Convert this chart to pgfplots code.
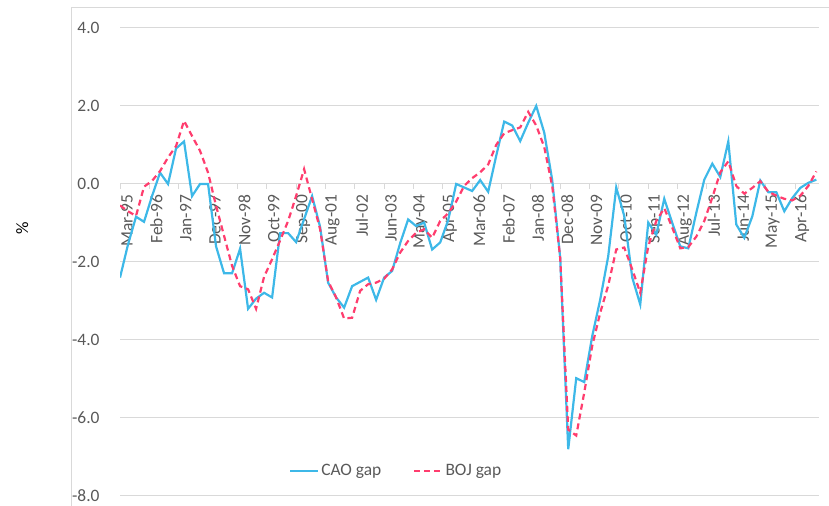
\documentclass[border=0pt]{standalone}
\usepackage{pgfplots}
\usepackage{pgfplotstable}
\pgfplotsset{compat=1.18}
\usepackage{fontspec}
\setmainfont{Carlito}
\definecolor{caoblue}{HTML}{3DB8E8}
\definecolor{bojred}{HTML}{FF3D6E}
\definecolor{txtgray}{HTML}{595959}
\definecolor{gridgray}{HTML}{D9D9D9}
\pgfplotsset{
  layers/labelsbelow/.define layer set={
    axis background,axis grid,axis ticks,axis lines,axis tick labels,main,axis descriptions,axis foreground
  }{/pgfplots/layers/standard},
}
\pgfplotstableread{
m cao boj
0 -2.40 -0.55
3 -1.55 -0.70
6 -0.84 -0.82
9 -0.97 -0.07
12 -0.31 0.08
15 0.29 0.33
18 0.00 0.68
21 0.91 0.97
24 1.09 1.62
27 -0.31 1.23
30 0.00 0.85
33 0.00 0.29
36 -1.60 -0.56
39 -2.29 -1.33
42 -2.29 -2.10
45 -1.66 -2.62
48 -3.20 -2.70
51 -2.94 -3.20
54 -2.79 -2.38
57 -2.91 -1.93
60 -1.26 -1.45
63 -1.26 -0.95
66 -1.49 -0.31
69 -0.90 0.38
72 -0.31 -0.39
75 -1.10 -1.16
78 -2.53 -2.49
81 -2.91 -2.91
84 -3.17 -3.45
87 -2.62 -3.43
90 -2.51 -2.74
93 -2.40 -2.57
96 -2.97 -2.53
99 -2.40 -2.43
102 -2.23 -2.19
105 -1.52 -1.76
108 -0.91 -1.46
111 -1.08 -1.25
114 -0.99 -1.16
117 -1.68 -1.38
120 -1.50 -0.95
123 -0.93 -0.75
126 0.00 -0.45
129 -0.09 -0.05
132 -0.18 0.15
135 0.10 0.30
138 -0.20 0.50
141 0.72 1.00
144 1.60 1.30
147 1.50 1.38
150 1.10 1.45
153 1.57 1.85
156 2.00 1.50
159 1.32 0.95
162 0.10 -0.05
165 -1.90 -1.90
168 -6.80 -6.30
171 -4.98 -6.45
174 -5.08 -5.35
177 -3.90 -4.15
180 -2.96 -3.30
183 -1.85 -2.60
186 -0.09 -1.68
189 -0.82 -1.63
192 -2.40 -2.19
195 -3.09 -2.79
198 -0.99 -1.60
201 -1.30 -0.95
204 -0.38 -0.62
207 -1.00 -1.12
210 -1.60 -1.65
213 -1.65 -1.62
216 -0.74 -1.35
219 0.11 -0.95
222 0.52 -0.35
225 0.18 0.30
228 1.09 0.58
231 -1.04 -0.05
234 -1.38 -0.25
237 -0.83 -0.10
240 0.09 0.07
243 -0.21 -0.20
246 -0.21 -0.30
249 -0.70 -0.38
252 -0.36 -0.42
255 -0.10 -0.30
258 0.03 -0.05
261 0.11 0.32
}\gapdata
\begin{document}
\fontsize{17.5}{21}\selectfont
\begin{tikzpicture}
\begin{axis}[
  set layers=labelsbelow,
  scale only axis, width=699bp, height=468bp,
  xmin=0, xmax=262, ymin=-8, ymax=4,
  axis x line=middle, axis y line=left,
  hide obscured x ticks=false,
  x axis line style={draw=gridgray, line width=1bp, -},
  y axis line style={draw=none},
  ytick={-8,-6,-4,-2,0,2,4},
  ymajorgrids, grid style={gridgray, line width=1bp},
  ytick style={draw=none},
  xtick={0,11,...,253},
  xticklabels={Mar-95,Feb-96,Jan-97,Dec-97,Nov-98,Oct-99,Sep-00,Aug-01,Jul-02,Jun-03,May-04,Apr-05,Mar-06,Feb-07,Jan-08,Dec-08,Nov-09,Oct-10,Sep-11,Aug-12,Jul-13,Jun-14,May-15,Apr-16},
  x tick style={draw=gridgray, line width=1bp},
  xtick align=outside,
  major tick length=5bp,
  xticklabel style={rotate=90, anchor=east, text=txtgray, yshift=-7bp},
  yticklabel style={text=txtgray, anchor=east, xshift=-12bp, /pgf/number format/.cd, fixed, fixed zerofill, precision=1},
  /pgf/number format/assume math mode=true,
  ylabel={\%},
  ylabel style={at={(axis description cs:-0.14,0.573)}, anchor=center, text=black},
  legend style={at={(0.395,0.0534)}, anchor=center, draw=none, fill=none,
    legend columns=2, text=txtgray,
    /tikz/every even column/.append style={column sep=30bp}},
  legend image code/.code={\draw[#1] (0bp,0bp) -- (28bp,0bp);},
]
\addplot[caoblue, line width=2.2bp, mark=none] table[x=m, y=cao] {\gapdata};
\addplot[bojred, line width=2.2bp, dash pattern=on 6bp off 4bp, mark=none] table[x=m, y=boj] {\gapdata};
\legend{CAO gap, BOJ gap}
\coordinate (bbl) at (rel axis cs:-0.1717,-0.0214);
\coordinate (btr) at (rel axis cs:1.0143,1.0598);
\coordinate (b1) at (rel axis cs:-0.0701,-0.0214);
\coordinate (b2) at (rel axis cs:-0.0701,1.0427);
\coordinate (b3) at (rel axis cs:1.0143,1.0427);
\end{axis}
\draw[gridgray, line width=1bp] (b1) -- (b2) -- (b3);
\pgfresetboundingbox
\useasboundingbox (bbl) rectangle (btr);
\end{tikzpicture}
\end{document}
